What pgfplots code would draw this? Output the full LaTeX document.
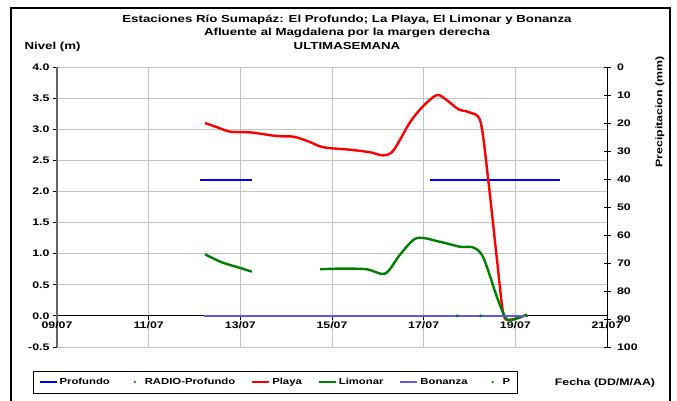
\documentclass[border=0pt]{standalone}
\usepackage{pgfplots}
\pgfplotsset{compat=1.18}
\usepackage{fontspec}
\setmainfont{Liberation Sans}[FakeStretch=1.3]
\definecolor{profundo}{RGB}{0,0,255}
\definecolor{playa}{RGB}{255,0,0}
\definecolor{limonar}{RGB}{0,128,0}
\definecolor{bonanza}{RGB}{90,90,230}
\definecolor{gridgray}{RGB}{195,195,195}
\pgfplotsset{
  legline/.style={legend image code/.code={\draw[##1] (0pt,0pt) -- (17pt,0pt);}},
  legdot/.style={legend image code/.code={\path[draw=none,fill=none] (0pt,0pt) -- (17pt,0pt);
      \fill[limonar,draw=none] (9pt,0pt) circle (1.3pt);}},
}

\begin{document}
\begin{tikzpicture}[x=1pt,y=1pt]
\useasboundingbox (-57,-53) rectangle (620,347);
% outer frame
\draw[line width=1.6pt] (-46,-70) -- (-46,339) -- (613,339) -- (613,-70);

\begin{axis}[
  at={(0,0)}, anchor=south west,
  scale only axis, width=550pt, height=280pt,
  xmin=9, xmax=21, ymin=-0.5, ymax=4,
  axis x line*=middle, axis y line*=left,
  hide obscured x ticks=false,
  xtick={9,11,13,15,17,19,21},
  xticklabels={09/07,11/07,13/07,15/07,17/07,19/07,21/07},
  ytick={-0.5,0,0.5,1,1.5,2,2.5,3,3.5,4},
  yticklabel style={/pgf/number format/.cd, fixed, fixed zerofill, precision=1},
  /pgf/number format/assume math mode=true,
  tick label style={font=\fontsize{9.5}{11}\selectfont\bfseries},
  xticklabel style={yshift=2pt},
  tick align=outside, major tick length=4pt,
  grid=major,
  major grid style={gridgray, line width=1pt},
  x axis line style={black, line width=0.9pt, -},
  y axis line style={black!60, line width=1.4pt, -},
  tick style={black, line width=0.8pt},
  unbounded coords=jump,
  legend columns=6,
  legend style={at={(axis description cs:0.397,-0.125)}, anchor=center,
    draw=black, line width=0.6pt, font=\fontsize{8.7}{10}\selectfont\bfseries,
    /tikz/every even column/.append style={column sep=14pt},
    inner ysep=5pt, inner xsep=5pt},
  legend image post style={line width=2pt},
]
% Profundo
\addplot[profundo, line width=2.4pt, legline] coordinates {
  (12.12,2.18) (13.25,2.18) (15,nan) (17.14,2.18) (19.97,2.18)};
\addlegendentry{Profundo}
% RADIO-Profundo
\addplot[only marks, mark=*, mark size=1.3pt, limonar, legdot] coordinates {
  (17.73,0) (18.24,0)};
\addlegendentry{RADIO-Profundo}
% Playa
\addplot[playa, line width=2.4pt, smooth, legline] coordinates {
  (12.23,3.10) (12.5,3.03) (12.78,2.96) (13.21,2.95) (13.8,2.89)
  (14.16,2.88) (14.5,2.80) (14.81,2.71) (15.4,2.67) (15.83,2.63)
  (16.12,2.58) (16.34,2.66) (16.71,3.12) (17.0,3.38) (17.29,3.55)
  (17.5,3.47) (17.76,3.32) (18.0,3.27) (18.24,3.12) (18.41,2.18)
  (18.6,0.90) (18.74,0.03) (18.9,-0.06) (19.26,0.02)};
\addlegendentry{Playa}
% Limonar
\addplot[limonar, line width=2.4pt, smooth, legline] coordinates {
  (12.23,0.99) (12.6,0.86) (13.0,0.77) (13.25,0.71) (14,nan)
  (14.74,0.75) (15.2,0.76) (15.76,0.75) (16.16,0.68) (16.49,0.99)
  (16.85,1.25) (17.36,1.19) (17.8,1.11) (18.08,1.10) (18.3,0.94)
  (18.6,0.30) (18.78,-0.02) (18.9,-0.07) (19.25,0.02)};
\addlegendentry{Limonar}
% Bonanza
\addplot[bonanza, line width=1.8pt, legline] coordinates {
  (12.2,0) (19.26,0)};
\addlegendentry{Bonanza}
% P
\addplot[only marks, mark=*, mark size=1.3pt, limonar, legdot] coordinates {
  (19.25,0)};
\addlegendentry{P}
\end{axis}

\begin{axis}[
  at={(0,0)}, anchor=south west,
  scale only axis, width=550pt, height=280pt,
  xmin=9, xmax=21, ymin=0, ymax=100, y dir=reverse,
  axis y line*=right, axis x line=none,
  ytick={0,10,...,100},
  /pgf/number format/assume math mode=true,
  tick label style={font=\fontsize{9.5}{11}\selectfont\bfseries},
  yticklabel style={xshift=3pt},
  tick align=center, major tick length=7pt,
  y axis line style={black, line width=0.9pt, -},
  tick style={black, line width=0.8pt},
]
\end{axis}

% titles and labels
\node[font=\fontsize{10.2}{12}\selectfont\bfseries] at (290,327) {Estaciones Río Sumapáz: El Profundo; La Playa, El Limonar y Bonanza};
\node[font=\fontsize{10.2}{12}\selectfont\bfseries] at (290,314) {Afluente al Magdalena por la margen derecha};
\node[font=\fontsize{10.2}{12}\selectfont\bfseries] at (290,301) {ULTIMASEMANA};
\node[font=\fontsize{10.2}{12}\selectfont\bfseries, anchor=west] at (-36,300) {Nivel (m)};
\node[font=\fontsize{9.5}{11}\selectfont\bfseries, rotate=90] at (603,235) {Precipitacion (mm)};
\node[font=\fontsize{9.5}{11}\selectfont\bfseries] at (548,-36) {Fecha (DD/M/AA)};
\end{tikzpicture}
\end{document}
